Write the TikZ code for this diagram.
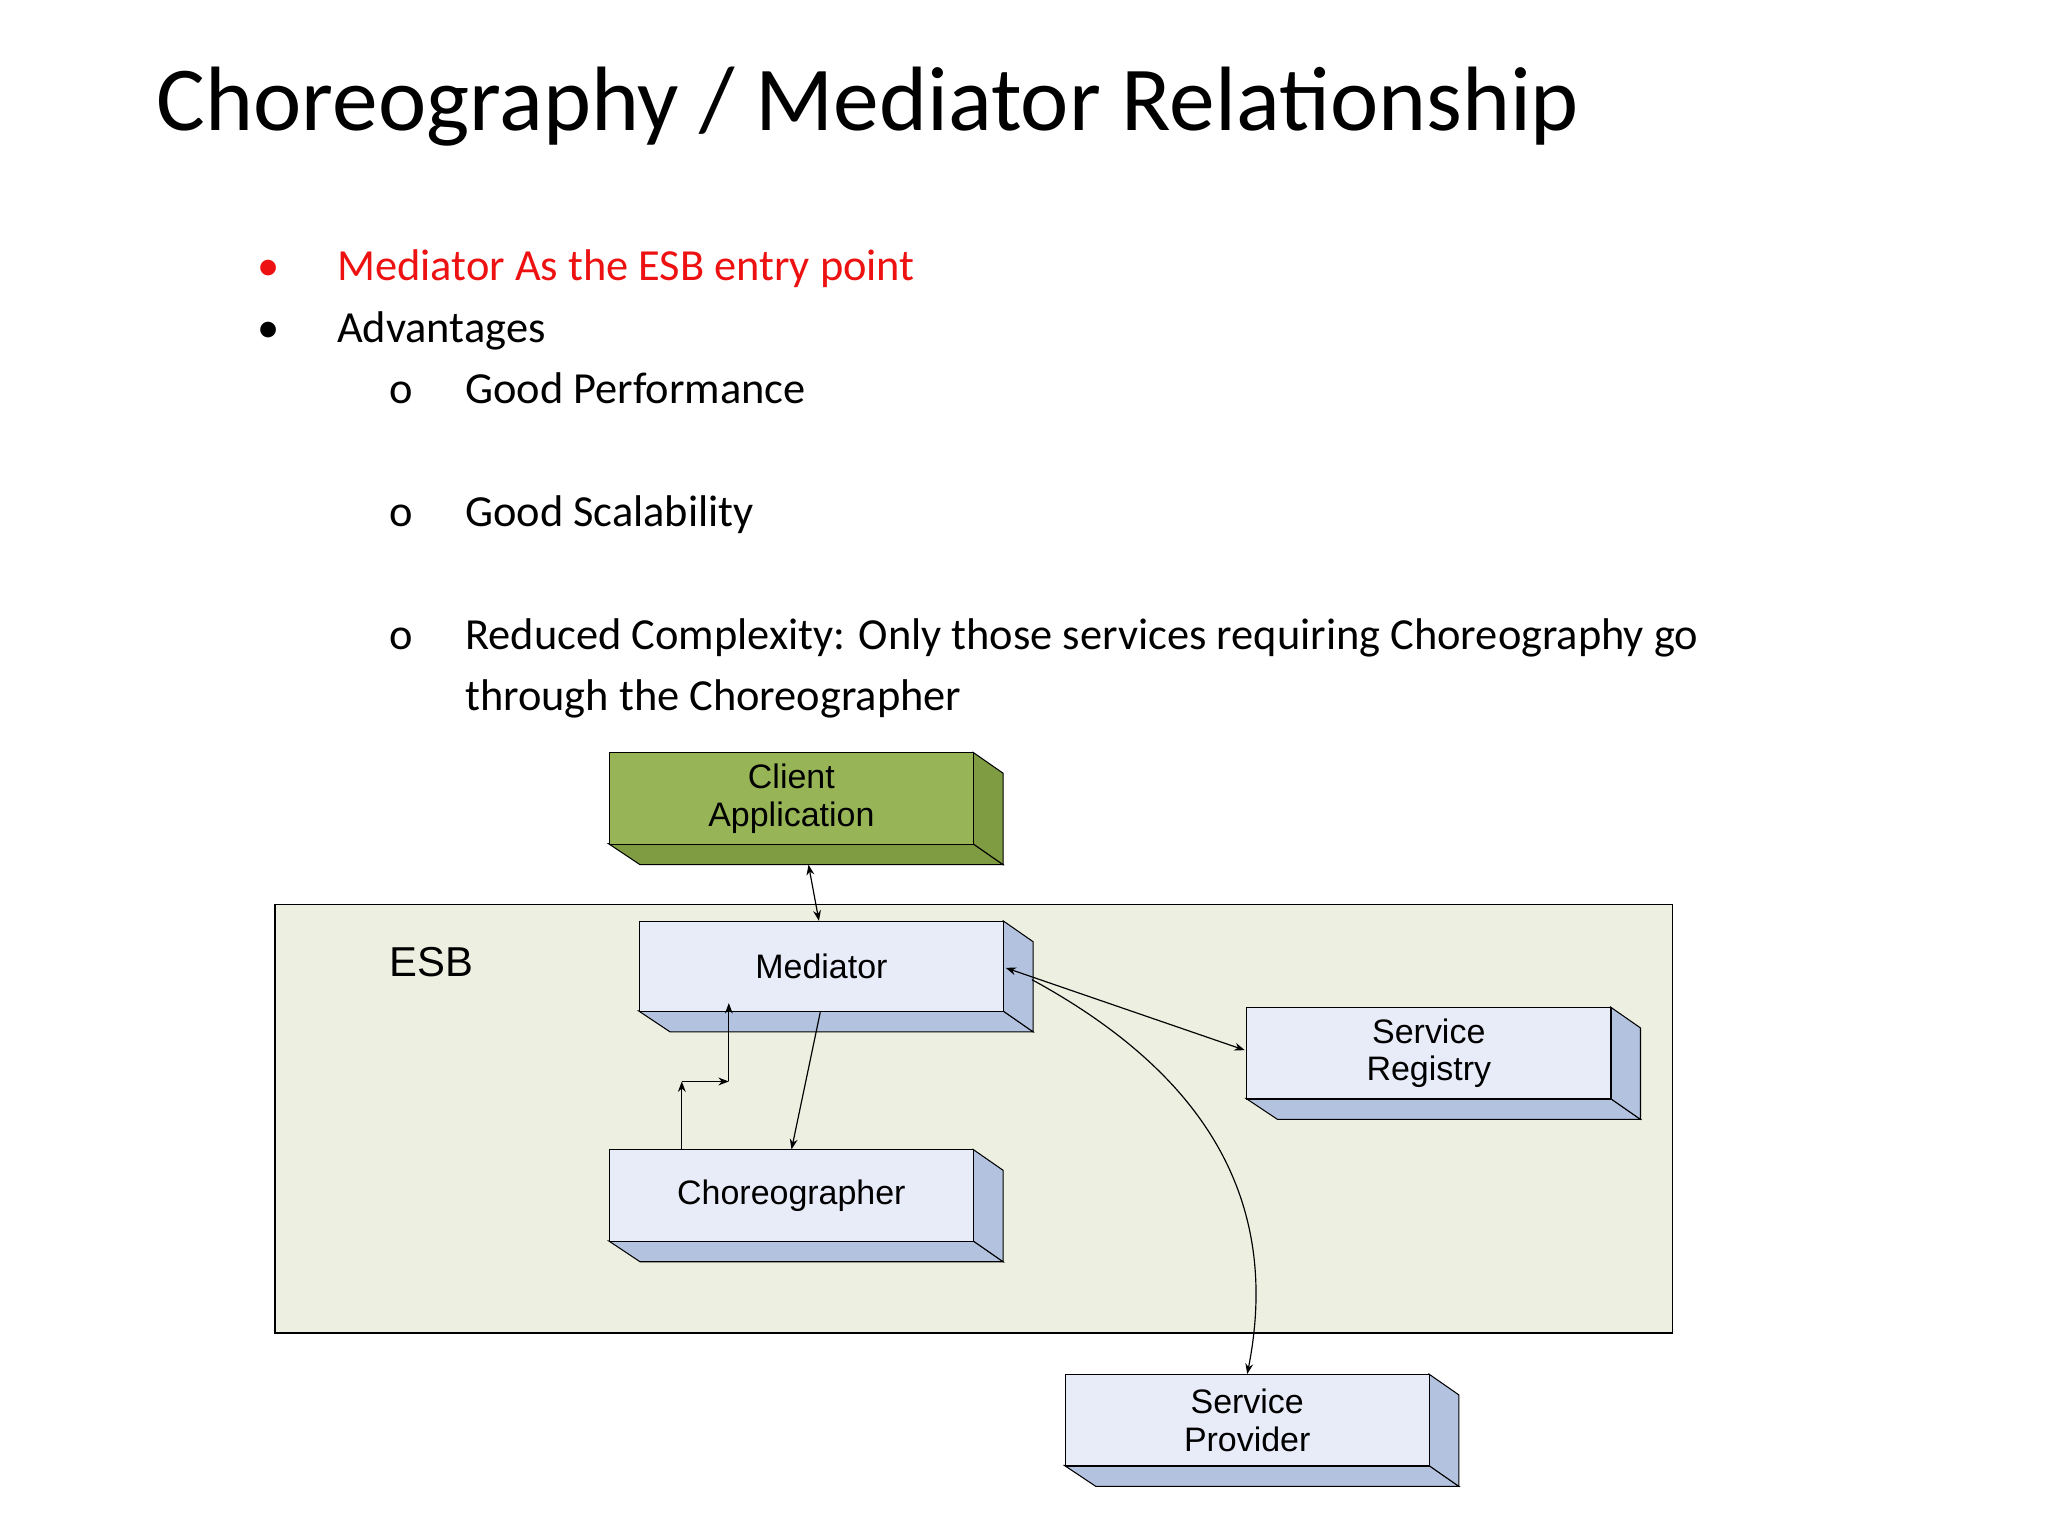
\documentclass[tikz,border=0pt]{standalone}
\usepackage{fontspec}
\setmainfont{Carlito}
\newfontfamily\boxfont{Liberation Sans}
\usetikzlibrary{arrows.meta}
\definecolor{boxfill}{HTML}{E8ECF8}
\definecolor{boxside}{HTML}{B3C3DF}
\definecolor{clientfill}{HTML}{97B556}
\definecolor{clientside}{HTML}{7F9C42}
\definecolor{esbfill}{HTML}{EDEFE0}
\definecolor{redtxt}{HTML}{EE1111}
\tikzset{
 bul/.style={anchor=base west,font=\fontsize{34}{40}\selectfont,inner sep=0},
 lbl/.style={font=\boxfont\fontsize{26}{29}\selectfont,align=center,inner sep=0},
 con/.style={-{Stealth[length=8pt,width=6pt]},line width=0.9pt},
}
% \bx{name}{x1}{y1}{x2}{y2}{front}{side}{text}
\newcommand{\bx}[8]{%
 \fill[#7,draw=black,line width=0.8pt] (#2,#5)--(#4,#5)--(#4+23,#5+16)--(#2+24,#5+16)--cycle;
 \fill[#7,draw=black,line width=0.8pt] (#4,#3)--(#4+23,#3+16)--(#4+23,#5+16)--(#4,#5)--cycle;
 \node[draw=black,line width=0.8pt,fill=#6,minimum width=#4-#2,minimum height=#5-#3,inner sep=0,anchor=north west] (#1) at (#2,#3) {};
 \node[lbl] at (#1.center) {#8};
}
\begin{document}
\begin{tikzpicture}[x=1pt,y=-1pt]
\useasboundingbox[fill=white] (0,0) rectangle (1568,1176);
\node[anchor=base west,inner sep=0,font=\fontsize{70}{80}\selectfont] (title) at (120,100) {Choreography / Mediator Relationship};
\node[bul,text=redtxt] (b1) at (197,215) {•}; \node[bul,text=redtxt] (t1) at (258,215) {Mediator As the ESB entry point};
\node[bul] (b2) at (197,262) {•}; \node[bul] (t2) at (258,262) {Advantages};
\node[bul] (s1) at (298,309) {o}; \node[bul] (u1) at (356,309) {Good Performance};
\node[bul] (s2) at (298,403) {o}; \node[bul] (u2) at (356,403) {Good Scalability};
\node[bul] (s3) at (298,497) {o}; \node[bul] (u3) at (356,497) {Reduced Complexity: Only those services requiring Choreography go};
\node[bul] (u4) at (356,544) {through the Choreographer};
\node[draw=black,line width=1pt,fill=esbfill,minimum width=1070,minimum height=328,inner sep=0,anchor=north west] (esb) at (210,692) {};
\node[anchor=base west,inner sep=0,font=\boxfont\fontsize{32}{36}\selectfont] (esbl) at (298,748) {ESB};
\bx{cli}{466}{576}{745}{646}{clientfill}{clientside}{Client\\Application}
\bx{med}{489}{705}{768}{774}{boxfill}{boxside}{Mediator}
\bx{reg}{954}{771}{1233}{841}{boxfill}{boxside}{Service\\Registry}
\bx{cho}{466}{880}{745}{950}{boxfill}{boxside}{Choreographer}
\bx{pro}{815}{1052}{1094}{1122}{boxfill}{boxside}{Service\\Provider}
\coordinate (cc) at (619,662); \coordinate (mm) at (627,705);
\draw[con,{Stealth[length=8pt,width=6pt]}-{Stealth[length=8pt,width=6pt]}] (cc) -- (mm);
\coordinate (mr) at (770,741);
\draw[con,{Stealth[length=8pt,width=6pt]}-{Stealth[length=8pt,width=6pt]}] (mr) -- (953,804);
\draw[con] (790,750) .. controls (900,810) and (985,900) .. (pro.north);
\draw[con] (628,775) -- (606,880);
\coordinate (e1) at (522,828); \coordinate (e2) at (558,828);
\draw[con] (522,880) -- (e1);
\draw[con] (e1) -- (e2);
\draw[con] (e2) -- (558,768);
\end{tikzpicture}
\end{document}
